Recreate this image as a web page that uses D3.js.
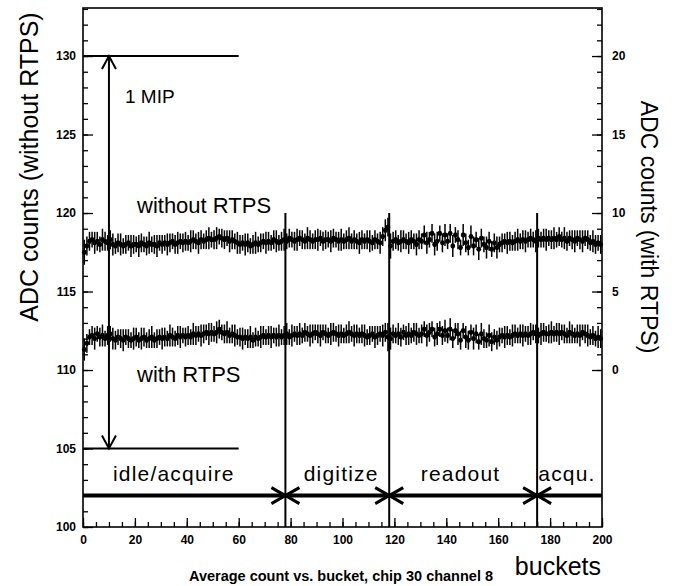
<!DOCTYPE html>
<html><head><meta charset="utf-8">
<script src="https://cdn.jsdelivr.net/npm/d3@7"></script>
<style>
body{margin:0;background:#fff;}
svg text{font-family:"Liberation Sans",Arial,Helvetica,sans-serif;fill:#000;}
</style></head>
<body><svg id="c" width="674" height="586"></svg>
<script>
// ---- data ----
const buckets = d3.range(0, 200); // bucket index 0..199
const withoutRTPS = [
117.5,117.9,118.2,118.3,118.1,118.2,118.0,118.3,118.2,118.1,
118.3,118.0,117.9,118.1,118.0,117.9,118.0,118.1,117.9,118.0,
118.0,117.9,118.1,118.0,117.9,118.1,118.0,118.0,117.9,118.1,
118.0,118.1,118.0,118.1,118.2,118.0,118.1,118.2,118.1,118.2,
118.1,118.2,118.3,118.2,118.1,118.3,118.2,118.3,118.4,118.3,
118.3,118.4,118.5,118.4,118.3,118.4,118.2,118.3,118.2,118.1,
118.0,118.1,118.0,118.1,117.9,118.0,118.1,118.0,118.1,118.2,
118.1,118.2,118.1,118.3,118.2,118.1,118.2,118.3,118.2,118.4,
118.3,118.2,118.3,118.4,118.3,118.2,118.4,118.3,118.2,118.3,
118.3,118.4,118.2,118.3,118.3,118.2,118.4,118.3,118.2,118.3,
118.2,118.3,118.4,118.2,118.3,118.2,118.1,118.3,118.2,118.3,
118.2,118.1,118.3,118.2,118.1,118.5,118.9,119.1,117.9,118.2,
118.3,118.1,118.2,118.3,118.2,118.1,118.3,118.2,118.0,118.3,
118.2,118.6,118.1,118.3,118.7,118.0,118.2,118.7,118.1,118.6,
118.2,118.7,117.9,118.6,118.3,117.8,118.6,118.1,117.8,118.5,
117.9,118.3,117.7,118.4,118.0,117.8,118.2,117.7,118.1,117.8,
118.0,118.1,118.2,118.1,118.2,118.1,118.2,118.3,118.2,118.3,
118.2,118.3,118.4,118.3,118.2,118.4,118.3,118.4,118.3,118.4,
118.3,118.4,118.3,118.5,118.3,118.4,118.2,118.4,118.3,118.2,
118.4,118.3,118.2,118.4,118.3,118.1,118.2,118.0,118.1,118.0];
const errWithout = [
.8,.6,.6,.5,.7,.6,.5,.7,.6,.5,
.6,.7,.5,.6,.7,.5,.6,.5,.7,.6,
.5,.7,.6,.5,.6,.7,.5,.6,.7,.5,
.6,.5,.7,.6,.5,.6,.7,.5,.6,.6,
.5,.7,.6,.5,.7,.6,.5,.6,.7,.5,
.6,.7,.5,.6,.6,.5,.7,.6,.5,.7,
.6,.5,.7,.6,.5,.6,.7,.5,.6,.5,
.7,.6,.5,.6,.7,.5,.6,.7,.5,.6,
.5,.6,.7,.5,.6,.5,.7,.6,.5,.6,
.7,.5,.6,.6,.5,.7,.6,.5,.6,.7,
.5,.6,.7,.5,.6,.5,.7,.6,.5,.6,
.7,.5,.6,.5,.7,.6,.7,.6,.8,.6,
.6,.5,.7,.6,.5,.7,.6,.5,.7,.6,
.5,.6,.7,.5,.6,.7,.6,.5,.6,.7,
.5,.6,.7,.5,.6,.5,.7,.6,.5,.7,
.6,.5,.7,.6,.5,.7,.6,.5,.6,.7,
.5,.6,.5,.7,.6,.5,.6,.7,.5,.6,
.7,.5,.6,.5,.7,.6,.5,.6,.7,.5,
.6,.7,.5,.6,.5,.7,.6,.5,.6,.7,
.5,.6,.7,.5,.6,.5,.7,.6,.5,.6];
// with RTPS, in right-axis units
const withRTPS = [
1.3,1.7,2.1,2.2,2.0,2.3,2.1,2.2,2.0,2.2,
2.3,2.0,1.9,2.1,2.0,1.9,2.1,2.0,1.9,2.0,
2.1,1.9,2.0,2.1,1.9,2.0,2.1,1.9,2.0,2.1,
2.0,2.1,2.0,2.2,2.1,2.0,2.2,2.1,2.2,2.1,
2.2,2.1,2.3,2.2,2.3,2.2,2.3,2.4,2.3,2.4,
2.3,2.4,2.6,2.4,2.3,2.4,2.2,2.3,2.2,2.1,
2.1,2.0,2.1,2.0,2.1,1.9,2.1,2.0,2.1,2.2,
2.1,2.2,2.1,2.2,2.1,2.2,2.1,2.2,2.3,2.1,
2.2,2.3,2.2,2.3,2.2,2.4,2.3,2.2,2.3,2.4,
2.3,2.2,2.4,2.3,2.2,2.3,2.4,2.3,2.2,2.3,
2.2,2.3,2.4,2.3,2.2,2.3,2.2,2.3,2.2,2.1,
2.2,2.3,2.1,2.2,2.3,2.2,2.4,2.1,2.0,2.3,
2.2,2.3,2.1,2.4,2.2,2.3,2.2,2.4,2.3,2.2,
2.3,2.6,2.2,2.4,2.6,2.1,2.3,2.6,2.2,2.5,
2.2,2.6,2.0,2.5,2.3,1.9,2.5,2.1,1.9,2.4,
2.0,2.3,1.8,2.3,2.0,1.9,2.2,1.8,2.1,1.9,
2.1,2.2,2.1,2.2,2.1,2.2,2.3,2.2,2.3,2.2,
2.3,2.2,2.3,2.4,2.3,2.2,2.3,2.4,2.3,2.3,
2.4,2.3,2.4,2.3,2.4,2.3,2.2,2.4,2.3,2.2,
2.3,2.2,2.4,2.3,2.2,2.1,2.2,2.0,2.1,2.0];
const errWith = [
.7,.6,.5,.6,.7,.5,.6,.7,.5,.6,
.5,.7,.6,.5,.6,.7,.5,.6,.5,.7,
.6,.5,.7,.6,.5,.6,.7,.5,.6,.5,
.7,.6,.5,.7,.6,.5,.6,.7,.5,.6,
.6,.5,.7,.6,.5,.7,.6,.5,.7,.6,
.5,.7,.6,.5,.6,.7,.5,.6,.7,.5,
.6,.7,.5,.6,.7,.5,.6,.5,.7,.6,
.5,.6,.7,.5,.6,.7,.5,.6,.7,.5,
.7,.5,.6,.7,.5,.6,.5,.7,.6,.5,
.6,.7,.5,.6,.5,.7,.6,.5,.7,.6,
.5,.6,.7,.5,.7,.6,.5,.6,.7,.5,
.6,.5,.7,.6,.5,.7,.6,.9,.7,.6,
.5,.7,.6,.5,.6,.7,.5,.6,.7,.5,
.6,.5,.7,.6,.5,.6,.7,.5,.6,.7,
.5,.7,.6,.5,.7,.6,.5,.7,.6,.5,
.7,.6,.5,.7,.6,.5,.7,.6,.5,.6,
.6,.5,.7,.6,.5,.7,.6,.5,.6,.7,
.5,.6,.7,.5,.6,.5,.7,.6,.5,.6,
.7,.5,.6,.7,.5,.6,.5,.7,.6,.5,
.6,.7,.5,.6,.7,.5,.6,.5,.7,.6];
const xTicks = [0,20,40,60,80,100,120,140,160,180,200];
const yLeftTicks = [100,105,110,115,120,125,130];
const yRightTicks = [0,5,10,15,20];
const phaseBounds = [78, 118, 175];
const phaseLabels = ["idle/acquire","digitize","readout","acqu."];
const phaseLabelX = [35, 99.5, 145.5, 186.5];
const mipLevels = [105, 130];   // 1 MIP span in left units
const mipX = 10, mipEnd = 60;
const phaseY = 102;

// ---- layout ----
const L = 83, R = 602, T = 8, B = 527;
const svg = d3.select("#c");
const x = d3.scaleLinear().domain([0,200]).range([L,R]);
const yL = d3.scaleLinear().domain([100,133.06]).range([B,T]);
const yR = d3.scaleLinear().domain([-10,23.06]).range([B,T]);

// axes
function styleAxis(g){ g.select(".domain").remove(); g.selectAll("line").attr("stroke","#000").attr("stroke-width",1.3);
  g.selectAll("text").attr("font-size",12).attr("font-weight","bold").attr("fill","#000"); }
svg.append("g").attr("transform",`translate(${L},0)`).call(d3.axisLeft(yL).tickValues(d3.range(100,134,1)).tickSize(-5).tickFormat("")).call(styleAxis);
svg.append("g").attr("transform",`translate(${L},0)`).call(d3.axisLeft(yL).tickValues(yLeftTicks).tickSize(-10).tickPadding(7).tickFormat(d3.format("d"))).call(styleAxis);
svg.append("g").attr("transform",`translate(${R},0)`).call(d3.axisRight(yR).tickValues(d3.range(0,24,1)).tickSize(-5).tickFormat("")).call(styleAxis);
svg.append("g").attr("transform",`translate(${R},0)`).call(d3.axisRight(yR).tickValues(yRightTicks).tickSize(-10).tickPadding(10).tickFormat(d3.format("d"))).call(styleAxis);
svg.append("g").attr("transform",`translate(0,${B})`).call(d3.axisBottom(x).tickValues(d3.range(0,201,5)).tickSize(-5).tickFormat("")).call(styleAxis);
svg.append("g").attr("transform",`translate(0,${B})`).call(d3.axisBottom(x).tickValues(xTicks).tickSize(-9).tickPadding(8).tickFormat(d3.format("d"))).call(styleAxis);

// frame
svg.append("rect").attr("x",L).attr("y",T).attr("width",R-L).attr("height",B-T)
  .attr("fill","none").attr("stroke","#000").attr("stroke-width",1.6);

// data series with error bars
function drawSeries(vals, errs, ys){
  const g = svg.append("g");
  buckets.forEach((b,i)=>{
    const cx = x(b+0.5);
    g.append("line").attr("x1",cx).attr("x2",cx).attr("y1",ys(vals[i]-errs[i])).attr("y2",ys(vals[i]+errs[i]))
      .attr("stroke","#000").attr("stroke-width",1.5);
    g.append("line").attr("x1",x(b)).attr("x2",x(b+1)).attr("y1",ys(vals[i])).attr("y2",ys(vals[i]))
      .attr("stroke","#000").attr("stroke-width",4.5);
    g.append("circle").attr("cx",cx).attr("cy",ys(vals[i])).attr("r",2.4).attr("fill","#000");
  });
}
drawSeries(withoutRTPS, errWithout, yL);
drawSeries(withRTPS, errWith, yR);

// phase boundaries
phaseBounds.forEach(b=>{
  svg.append("line").attr("x1",x(b)).attr("x2",x(b)).attr("y1",yL(100)).attr("y2",yL(120))
    .attr("stroke","#000").attr("stroke-width",2);
});
// thick phase line
svg.append("line").attr("x1",x(0)).attr("x2",x(200)).attr("y1",yL(phaseY)).attr("y2",yL(phaseY))
  .attr("stroke","#000").attr("stroke-width",4);
phaseBounds.forEach(b=>{
  const cx = x(b), cy = yL(phaseY);
  const p = `M${cx-14},${cy-8}L${cx},${cy}L${cx-14},${cy+8}M${cx+14},${cy-8}L${cx},${cy}L${cx+14},${cy+8}`;
  svg.append("path").attr("d",p).attr("fill","none").attr("stroke","#000").attr("stroke-width",3);
});
phaseLabels.forEach((t,i)=>{
  svg.append("text").attr("x",x(phaseLabelX[i])).attr("y",481).attr("text-anchor","middle")
    .attr("font-size",21).attr("letter-spacing",1.2).style("font-weight","300").text(t);
});

// 1 MIP span
mipLevels.forEach(v=>{
  svg.append("line").attr("x1",x(0)).attr("x2",x(mipEnd)).attr("y1",yL(v)).attr("y2",yL(v))
    .attr("stroke","#000").attr("stroke-width",2);
});
svg.append("line").attr("x1",x(mipX)).attr("x2",x(mipX)).attr("y1",yL(mipLevels[0])).attr("y2",yL(mipLevels[1]))
  .attr("stroke","#000").attr("stroke-width",2);
{
  const ax = x(mipX), top = yL(mipLevels[1]), bot = yL(mipLevels[0]);
  svg.append("path").attr("d",`M${ax-7},${top+13}L${ax},${top}L${ax+7},${top+13}M${ax-7},${bot-13}L${ax},${bot}L${ax+7},${bot-13}`)
    .attr("fill","none").attr("stroke","#000").attr("stroke-width",2);
}
svg.append("text").attr("x",125).attr("y",103).attr("font-size",19).text("1 MIP");
svg.append("text").attr("x",137).attr("y",213).attr("font-size",22).text("without RTPS");
svg.append("text").attr("x",137).attr("y",382).attr("font-size",22).text("with RTPS");

// axis titles
svg.append("text").attr("transform",`translate(38,${(T+326)/2}) rotate(-90)`).attr("text-anchor","middle")
  .attr("font-size",25).text("ADC counts (without RTPS)");
svg.append("text").attr("transform",`translate(641,227) rotate(90)`).attr("text-anchor","middle")
  .attr("font-size",23).text("ADC counts (with RTPS)");
svg.append("text").attr("x",601).attr("y",575).attr("text-anchor","end").attr("font-size",25).text("buckets");
svg.append("text").attr("x",341).attr("y",581).attr("text-anchor","middle").attr("font-size",14.5)
  .attr("font-weight","bold").text("Average count vs. bucket, chip 30 channel 8");
</script></body></html>
